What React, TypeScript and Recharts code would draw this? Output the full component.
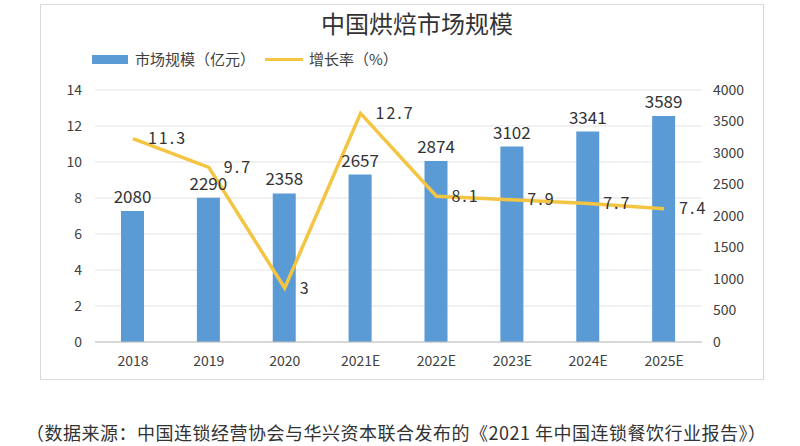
import React from "react";
import { ComposedChart, Bar, Line, XAxis, YAxis, CartesianGrid, LabelList } from "recharts";

const categories = ["2018", "2019", "2020", "2021E", "2022E", "2023E", "2024E", "2025E"];
const marketSize = [2080, 2290, 2358, 2657, 2874, 3102, 3341, 3589];
const growthRate = [11.3, 9.7, 3, 12.7, 8.1, 7.9, 7.7, 7.4];
const leftTicks = [0, 2, 4, 6, 8, 10, 12, 14];
const rightTicks = [0, 500, 1000, 1500, 2000, 2500, 3000, 3500, 4000];

const data = categories.map((c, i) => ({ name: c, size: marketSize[i], rate: growthRate[i] }));

const FONT = "'Noto Sans CJK SC', 'Noto Sans', sans-serif";
const BAR = "#5B9BD5";
const LINE = "#F4C542";

const RateLabel = (props: any) => {
  const { x, y, value } = props;
  return (
    <text x={x + 15} y={y} dy="0.35em" fontSize={16} fill="#333" fontFamily={FONT} letterSpacing={2}>
      {value}
    </text>
  );
};

export default function App() {
  return (
    <div style={{ position: "absolute", left: 0, top: 0, width: 800, height: 446, background: "#fff", fontFamily: FONT }}>
      <div style={{ position: "absolute", left: 40, top: 4, width: 722, height: 374, border: "1px solid #d9d9d9" }} />
      <div style={{ position: "absolute", left: 0, width: 834, top: 7, textAlign: "center", fontSize: 24, color: "#333", lineHeight: "32px" }}>
        中国烘焙市场规模
      </div>
      <div style={{ position: "absolute", left: 92, top: 48, display: "flex", alignItems: "center", fontSize: 15, color: "#404040", lineHeight: "22px" }}>
        <span style={{ display: "inline-block", width: 36, height: 9, background: BAR, marginRight: 7 }} />
        <span>市场规模（亿元）</span>
        <span style={{ display: "inline-block", width: 38, height: 3, background: LINE, marginLeft: 10, marginRight: 6 }} />
        <span>增长率（%）</span>
      </div>
      <div style={{ position: "absolute", left: 0, top: 0 }}>
        <ComposedChart width={800} height={446} data={data} margin={{ top: 90, right: 38, bottom: 74, left: 55 }}>
          <CartesianGrid yAxisId="left" vertical={false} stroke="#e3e3e3" />
          <XAxis
            dataKey="name"
            height={30}
            tickLine={false}
            axisLine={{ stroke: "#bfbfbf" }}
            tickSize={0}
            tickMargin={14}
            tick={{ fontSize: 14, fill: "#404040", fontFamily: FONT }}
            interval={0}
          />
          <YAxis
            yAxisId="left"
            orientation="left"
            width={40}
            domain={[0, 14]}
            ticks={leftTicks}
            tickLine={false}
            axisLine={false}
            tickSize={0}
            tickMargin={13}
            tick={{ fontSize: 14, fill: "#404040", fontFamily: FONT }}
          />
          <YAxis
            yAxisId="right"
            orientation="right"
            width={60}
            domain={[0, 4000]}
            ticks={rightTicks}
            tickLine={false}
            axisLine={false}
            tickSize={0}
            tickMargin={11}
            tick={{ fontSize: 14, fill: "#404040", fontFamily: FONT, textAnchor: "start" }}
          />
          <Bar yAxisId="right" dataKey="size" fill={BAR} barSize={23} isAnimationActive={false}>
            <LabelList dataKey="size" position="top" offset={8} fontSize={17} fill="#333" fontFamily={FONT} />
          </Bar>
          <Line
            yAxisId="left"
            type="linear"
            dataKey="rate"
            stroke={LINE}
            strokeWidth={3.5}
            dot={false}
            isAnimationActive={false}
          >
            <LabelList dataKey="rate" content={RateLabel} />
          </Line>
        </ComposedChart>
      </div>
      <div style={{ position: "absolute", left: 26, top: 419, fontSize: 18, letterSpacing: 0.5, color: "#333", whiteSpace: "nowrap", lineHeight: "26px" }}>
        （数据来源：中国连锁经营协会与华兴资本联合发布的《2021 年中国连锁餐饮行业报告》）
      </div>
    </div>
  );
}
